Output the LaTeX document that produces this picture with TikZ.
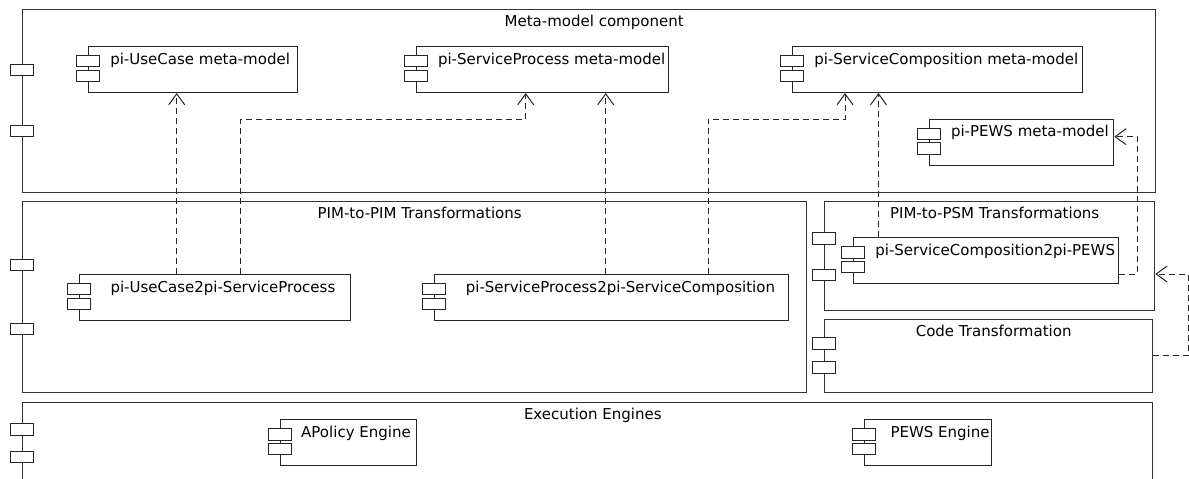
\documentclass[tikz,border=0pt]{standalone}
\usepackage{fontspec}
\setmainfont{DejaVu Sans}
\usetikzlibrary{arrows.meta,calc}

\begin{document}
\begin{tikzpicture}[x=1pt, y=-1pt, line width=1pt,
    font=\fontsize{15pt}{18pt}\selectfont,
    container/.style={draw=black!80, minimum width=#1, inner sep=0pt, anchor=north west},
    compbox/.style={draw=black!85, fill=white, minimum width=#1, minimum height=46pt, inner sep=0pt, anchor=north west},
    boxtitle/.style={anchor=base, inner sep=0pt, xshift=5pt, yshift=-17.5pt},
    comptext/.style={anchor=base west, inner sep=0pt, xshift=#1, yshift=-18pt},
    comptext/.default=21.5pt,
    port/.style={draw=black!85, fill=white},
    dep/.style={draw=black!85, dash pattern=on 6pt off 4pt, -{Straight Barb[length=11pt,width=16pt]}}]

    \useasboundingbox (0,0) rectangle (1189,479);
    \clip (0,0) rectangle (1189,479);

    % Containers
    \node[container=1132.7pt, minimum height=182.7pt, label={[boxtitle]north:Meta-model component}] (meta) at (22.3,9.3) {};
    \node[container=783.7pt, minimum height=191.3pt, label={[boxtitle]north:PIM-to-PIM Transformations}] (pim) at (22.3,201) {};
    \node[container=330.3pt, minimum height=109pt, label={[boxtitle]north:PIM-to-PSM Transformations}] (psm) at (824,201) {};
    \node[container=328.3pt, minimum height=73pt, label={[boxtitle]north:Code Transformation}] (code) at (824,319.3) {};
    \node[container=1130pt, minimum height=100pt, label={[boxtitle]north:Execution Engines}] (exec) at (22.3,401.7) {};

    % Components
    \node[compbox=208.4pt, label={[comptext]north west:pi-UseCase meta-model}] (ucmm) at (88.3,46) {};
    \node[compbox=252.3pt, label={[comptext]north west:pi-ServiceProcess meta-model}] (spmm) at (416,46) {};
    \node[compbox=289.4pt, label={[comptext]north west:pi-ServiceComposition meta-model}] (scmm) at (792.3,46) {};
    \node[compbox=184.3pt, label={[comptext]north west:pi-PEWS meta-model}] (pewsmm) at (929,118.7) {};
    \node[compbox=271pt, label={[comptext=31pt]north west:pi-UseCase2pi-ServiceProcess}] (uc2sp) at (79,274) {};
    \node[compbox=353.4pt, label={[comptext=31pt]north west:pi-ServiceProcess2pi-ServiceComposition}] (sp2sc) at (434.3,274) {};
    \node[compbox=265pt, label={[comptext]north west:pi-ServiceComposition2pi-PEWS}] (sc2pews) at (853.3,237.3) {};
    \node[compbox=135.7pt, label={[comptext=20.7pt]north west:APolicy Engine}] (apol) at (280,419.3) {};
    \node[compbox=126.4pt, label={[comptext=25.7pt]north west:PEWS Engine}] (pewse) at (864.3,419.3) {};

    % Ports
    \foreach \n/\pa/\pb in {meta/55/115.7, pim/58.3/122.3, psm/31.7/68, code/18.4/42.4, exec/22/49.3}
        \draw[port] ($(\n.north west)+(-11.5,\pa)$) rectangle ++(23,11.6)
                    ($(\n.north west)+(-11.5,\pb)$) rectangle ++(23,11.6);
    \foreach \n in {ucmm,spmm,scmm,pewsmm,uc2sp,sp2sc,sc2pews,apol,pewse}
        \draw[port] ($(\n.north west)+(-11.5,9.3)$) rectangle ++(23,11.4)
                    ($(\n.north west)+(-11.5,24.2)$) rectangle ++(23,11.4);

    % Dependencies
    \draw[dep] ($(uc2sp.north west)+(97.7,0)$) -- ($(ucmm.south west)+(88.4,0)$);
    \draw[dep] ($(uc2sp.north west)+(161.7,0)$) -- ++(0,-154.7) -| ($(spmm.south west)+(109.7,0)$);
    \draw[dep] ($(sp2sc.north west)+(171.4,0)$) -- ($(spmm.south west)+(189.7,0)$);
    \draw[dep] ($(sp2sc.north west)+(273.7,0)$) -- ++(0,-154.7) -| ($(scmm.south west)+(52.7,0)$);
    \draw[dep] ($(sc2pews.north west)+(25.2,0)$) -- ($(scmm.south west)+(86.2,0)$);
    \draw[dep] ($(sc2pews.north east)+(0,36.7)$) -- ++(18.2,0) |- ($(pewsmm.north east)+(0,18)$);
    \draw[dep] ($(code.north east)+(0,36.4)$) -- ++(34.8,0) |- ($(psm.north east)+(0,73)$);
\end{tikzpicture}
\end{document}
